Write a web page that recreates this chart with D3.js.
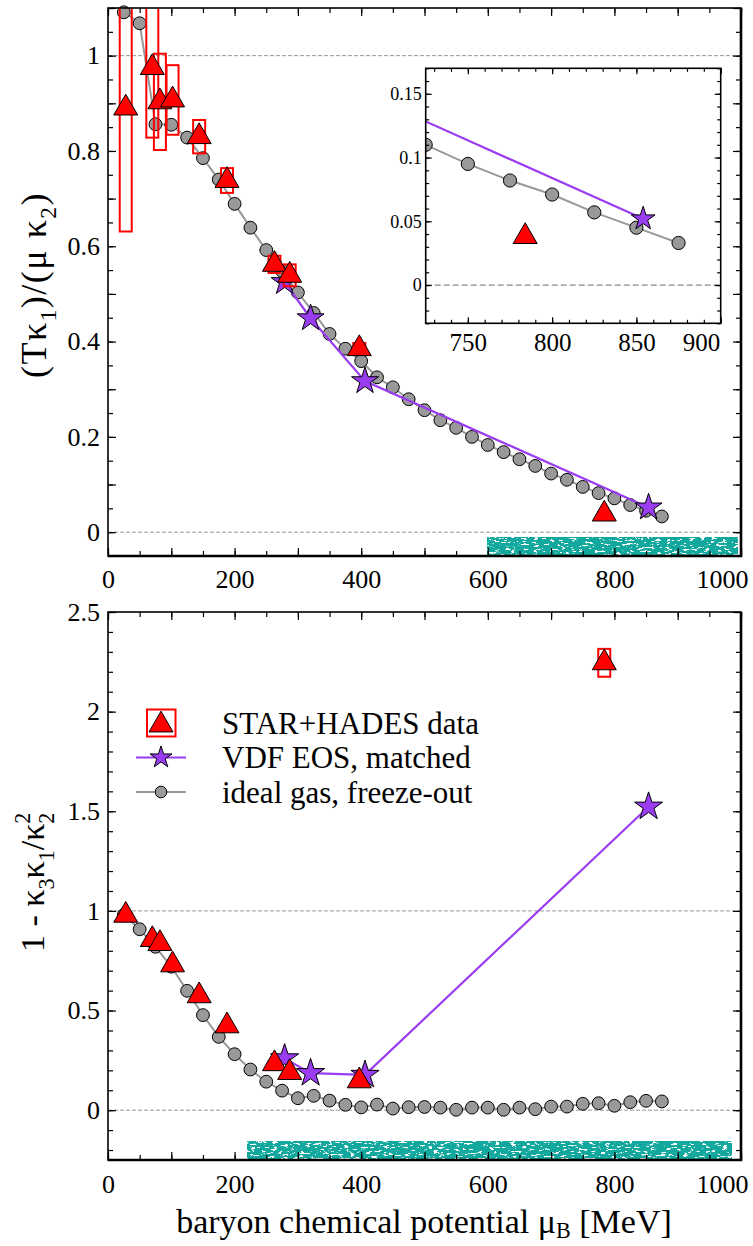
<!DOCTYPE html>
<html>
<head>
<meta charset="utf-8">
<script src="https://cdn.jsdelivr.net/npm/d3@7"></script>
<style>
  body { margin: 0; background: #fff; }
  svg text { font-family: "Liberation Serif", "Times New Roman", "DejaVu Serif", serif; fill: #000; }
</style>
</head>
<body>
<svg id="fig" width="753" height="1246"></svg>
<script>
// ---------- data ----------
// ideal gas along the freeze-out line
const idealMu = [25, 50, 75, 100, 125, 150, 175, 200, 225, 250, 275, 300, 325, 350, 375, 400, 425, 450,
                 475, 500, 525, 550, 575, 600, 625, 650, 675, 700, 725, 750, 775, 800, 825, 850, 875];
const idealRatio = [1.091, 1.068, 0.856, 0.855, 0.828, 0.785, 0.740, 0.689, 0.639, 0.592, 0.548, 0.503,
                    0.460, 0.416, 0.385, 0.359, 0.325, 0.304, 0.279, 0.256, 0.235, 0.219, 0.200, 0.183,
                    0.168, 0.153, 0.139, 0.123, 0.110, 0.095, 0.082, 0.071, 0.057, 0.045, 0.033];
const idealSkew = [0.980, 0.908, 0.820, 0.720, 0.599, 0.477, 0.368, 0.281, 0.204, 0.143, 0.098, 0.060,
                   0.072, 0.048, 0.027, 0.014, 0.028, 0.008, 0.015, 0.016, 0.013, 0.002, 0.013, 0.013,
                   0.002, 0.013, 0.005, 0.018, 0.018, 0.032, 0.035, 0.022, 0.040, 0.047, 0.044];

// STAR + HADES measurements
const dataMu = [28, 70, 82, 102, 144, 188, 263, 287, 397, 784];
const dataRatio = [0.890, 0.975, 0.903, 0.907, 0.830, 0.738, 0.562, 0.539, 0.385, 0.038];
const dataRatioErr = [0.259, 0.147, 0.101, 0.073, 0.035, 0.026, 0.018, 0.023, 0.012, 0.004];
const dataSkew = [0.978, 0.856, 0.836, 0.729, 0.574, 0.423, 0.233, 0.189, 0.147, 2.245];
const dataSkewErr = [0.01, 0.01, 0.01, 0.01, 0.01, 0.01, 0.01, 0.01, 0.01, 0.07];

// VDF equation of state, matched points
const vdfMu = [279, 320, 406, 854];
const vdfRatio = [0.525, 0.449, 0.317, 0.052];
const vdfSkew = [0.260, 0.186, 0.177, 1.523];

// axis ticks
const xTickLabels = [0, 200, 400, 600, 800, 1000];
const yTickLabelsTop = [0, 0.2, 0.4, 0.6, 0.8, 1];
const yTickLabelsBottom = [0, 0.5, 1, 1.5, 2, 2.5];
const insetXTickLabels = [750, 800, 850, 900];
const insetYTickLabels = [0, 0.05, 0.1, 0.15];

// speckled bands along the bottom of each panel (mu range, value range)
const bandTopMu = [600, 995], bandTopVal = [-0.05, -0.011];
const bandBottomMu = [220, 985], bandBottomVal = [-0.25, -0.157];

// ---------- style ----------
const RED = "#ff0000", PURPLE = "#9a3cf0", GRAY = "#999999", TEAL = "#13a89e";
const svg = d3.select("#fig");
const defs = svg.append("defs");

// speckle texture for the bands
const f = defs.append("filter").attr("id", "speckle")
  .attr("x", 0).attr("y", 0).attr("width", 1).attr("height", 1)
  .attr("color-interpolation-filters", "sRGB");
f.append("feTurbulence").attr("type", "fractalNoise")
  .attr("baseFrequency", "0.18 0.55").attr("numOctaves", 3).attr("seed", 5).attr("result", "n");
f.append("feColorMatrix").attr("in", "n").attr("type", "matrix")
  .attr("values", "0 0 0 0 0.075  0 0 0 0 0.659  0 0 0 0 0.620  16 0 0 0 -5.4");

const triangle = d3.symbol(d3.symbolTriangle, 249);
const star = d3.symbol(d3.symbolStar, 225);

// rich text with sub/superscripts
function rich(sel, parts, fs, subShift = 0.28) {
  let cur = 0;
  parts.forEach(p => {
    const ts = sel.append("tspan").text(p.t);
    const target = p.sub ? fs * subShift : p.sup ? -fs * 0.42 : 0;
    if (p.sub || p.sup) ts.attr("font-size", fs * 0.65);
    if (target !== cur) ts.attr("dy", target - cur);
    if (p.dx) ts.attr("dx", p.dx);
    cur = target;
  });
}

// frame with inward ticks on all four sides
function frame(g, x, y, o) {
  const [xl, xr] = x.range(), [yb, yt] = y.range();
  const style = s => s.call(a => a.select(".domain").remove())
    .attr("font-family", null).attr("font-size", o.fs)
    .selectAll("line").attr("stroke-width", 1.2);
  // minor ticks
  g.append("g").attr("transform", `translate(0,${yb})`)
    .call(d3.axisBottom(x).tickValues(o.xMinor).tickSize(-o.minor).tickFormat("")).call(style);
  g.append("g").attr("transform", `translate(0,${yt})`)
    .call(d3.axisTop(x).tickValues(o.xMinor).tickSize(-o.minor).tickFormat("")).call(style);
  g.append("g").attr("transform", `translate(${xl},0)`)
    .call(d3.axisLeft(y).tickValues(o.yMinor).tickSize(-o.minor).tickFormat("")).call(style);
  g.append("g").attr("transform", `translate(${xr},0)`)
    .call(d3.axisRight(y).tickValues(o.yMinor).tickSize(-o.minor).tickFormat("")).call(style);
  // major ticks
  g.append("g").attr("transform", `translate(0,${yt})`)
    .call(d3.axisTop(x).tickValues(o.xMajor).tickSize(-o.major).tickFormat("")).call(style);
  g.append("g").attr("transform", `translate(${xr},0)`)
    .call(d3.axisRight(y).tickValues(o.yMajor).tickSize(-o.major).tickFormat("")).call(style);
  const xa = g.append("g").attr("class", "xaxis").attr("transform", `translate(0,${yb})`)
    .call(d3.axisBottom(x).tickValues(o.xMajor).tickSize(-o.major).tickPadding(o.xPad)
      .tickFormat(d => o.xLabels.includes(d) ? d : "")).call(style);
  xa.attr("font-size", o.xfs || o.fs);
  g.append("g").attr("transform", `translate(${xl},0)`)
    .call(d3.axisLeft(y).tickValues(o.yMajor).tickSize(-o.major).tickPadding(o.yPad)
      .tickFormat(d => o.yLabels.some(v => Math.abs(v - d) < 1e-9) ? d3.format("")(+d.toFixed(3)) : "")).call(style);
  g.append("rect").attr("x", xl).attr("y", yt).attr("width", xr - xl).attr("height", yb - yt)
    .attr("fill", "none").attr("stroke", "#000").attr("stroke-width", o.frame || 1.6);
  if (o.heavy) {
    g.append("path").attr("d", `M${xl},${yb}H${xr}V${yt}`)
      .attr("fill", "none").attr("stroke", "#000").attr("stroke-width", 2.6);
  }
  // keep the last label inside the figure
  g.selectAll(".xaxis .tick text").filter(d => d === o.lastLabel)
    .attr("text-anchor", "end").attr("dx", o.lastDx);
}

function hline(g, x, y, v, w, dash) {
  g.append("line").attr("x1", x.range()[0]).attr("x2", x.range()[1])
    .attr("y1", y(v)).attr("y2", y(v))
    .attr("stroke", "#8a8a8a").attr("stroke-width", w).attr("stroke-dasharray", dash);
}

function band(g, x, y, mu, val) {
  g.append("rect").attr("x", x(mu[0])).attr("width", x(mu[1]) - x(mu[0]))
    .attr("y", y(val[1])).attr("height", y(val[0]) - y(val[1]))
    .attr("fill", TEAL).attr("filter", "url(#speckle)");
}

function series(g, x, y, o) {
  const line = d3.line().x(d => x(d[0])).y(d => y(d[1]));
  const ideal = d3.zip(o.idealMu, o.ideal);
  g.append("path").attr("d", line(ideal)).attr("fill", "none")
    .attr("stroke", GRAY).attr("stroke-width", 2);
  g.append("g").selectAll("circle").data(ideal).join("circle")
    .attr("cx", d => x(d[0])).attr("cy", d => y(d[1])).attr("r", o.r || 6.4)
    .attr("fill", GRAY).attr("stroke", "#000").attr("stroke-width", 1);
  const vdf = d3.zip(o.vdfMu, o.vdf);
  g.append("path").attr("d", line(vdf)).attr("fill", "none")
    .attr("stroke", PURPLE).attr("stroke-width", 2.2);
  g.append("g").selectAll("path").data(vdf).join("path")
    .attr("transform", d => `translate(${x(d[0])},${y(d[1])})`)
    .attr("d", o.star || star).attr("fill", PURPLE).attr("stroke", "#000").attr("stroke-width", 1);
  const data = d3.zip(o.dataMu, o.data, o.err || o.data.map(() => 0));
  if (o.err) {
    g.append("g").attr("clip-path", o.clip).selectAll("rect").data(data).join("rect")
      .attr("x", d => x(d[0]) - 6).attr("width", 12)
      .attr("y", d => y(d[1] + d[2])).attr("height", d => y(d[1] - d[2]) - y(d[1] + d[2]))
      .attr("fill", "none").attr("stroke", RED).attr("stroke-width", 2);
  }
  g.append("g").selectAll("path").data(data).join("path")
    .attr("transform", d => `translate(${x(d[0])},${y(d[1])})`)
    .attr("d", triangle).attr("fill", RED).attr("stroke", "#000").attr("stroke-width", 1);
}

// ---------- top panel ----------
const x = d3.scaleLinear([0, 1000], [108, 741]);
const yTop = d3.scaleLinear([-0.05, 1.1], [556, 8]);
const gTop = svg.append("g");

defs.append("clipPath").attr("id", "clipTop").append("rect")
  .attr("x", 108).attr("y", 8).attr("width", 633).attr("height", 548);

hline(gTop, x, yTop, 1, 0.9, "4,2");
hline(gTop, x, yTop, 0, 0.9, "4,2");
band(gTop, x, yTop, bandTopMu, bandTopVal);
series(gTop, x, yTop, {
  idealMu, ideal: idealRatio, vdfMu, vdf: vdfRatio,
  dataMu, data: dataRatio, err: dataRatioErr, clip: "url(#clipTop)"
});
frame(gTop, x, yTop, {
  xMinor: d3.range(0, 1001, 50), xMajor: d3.range(0, 1001, 100), xLabels: xTickLabels,
  yMinor: d3.range(-0.05, 1.1001, 0.05), yMajor: d3.range(0, 1.1001, 0.1).map(v => +v.toFixed(2)),
  yLabels: yTickLabelsTop, minor: 5, major: 8, fs: 26, xPad: 13.5, yPad: 8, heavy: true,
  lastLabel: 1000, lastDx: 7
});

// inset
const xIn = d3.scaleLinear([725, 900], [425.7, 720.7]);
const yIn = d3.scaleLinear([-0.03, 0.17], [323.3, 68.3]);
const gIn = svg.append("g");
gIn.append("rect").attr("x", 425.7).attr("y", 68.3).attr("width", 295).attr("height", 255).attr("fill", "#fff");
defs.append("clipPath").attr("id", "clipIn").append("rect")
  .attr("x", 425.7).attr("y", 68.3).attr("width", 295).attr("height", 255);
hline(gIn, xIn, yIn, 0, 1.3, "6,3");
const gInData = gIn.append("g").attr("clip-path", "url(#clipIn)");
series(gInData, xIn, yIn, {
  idealMu, ideal: idealRatio, vdfMu, vdf: vdfRatio,
  dataMu, data: dataRatio, star: d3.symbol(d3.symbolStar, 175), r: 6.6
});
frame(gIn, xIn, yIn, {
  xMinor: d3.range(730, 901, 10), xMajor: d3.range(750, 901, 50), xLabels: insetXTickLabels,
  yMinor: d3.range(-0.03, 0.1701, 0.01).map(v => +v.toFixed(2)),
  yMajor: d3.range(0, 0.1701, 0.05).map(v => +v.toFixed(2)),
  yLabels: insetYTickLabels, minor: 3.5, major: 6, fs: 18, xfs: 25, xPad: 9.5, yPad: 4, frame: 1.6,
  lastLabel: 900, lastDx: -1
});

// ---------- bottom panel ----------
const yBot = d3.scaleLinear([-0.25, 2.5], [1160, 612]);
const gBot = svg.append("g");
hline(gBot, x, yBot, 1, 0.9, "4,2");
hline(gBot, x, yBot, 0, 0.9, "4,2");
band(gBot, x, yBot, bandBottomMu, bandBottomVal);
series(gBot, x, yBot, {
  idealMu, ideal: idealSkew, vdfMu, vdf: vdfSkew,
  dataMu, data: dataSkew, err: dataSkewErr, star: d3.symbol(d3.symbolStar, 245)
});
frame(gBot, x, yBot, {
  xMinor: d3.range(0, 1001, 50), xMajor: d3.range(0, 1001, 100), xLabels: xTickLabels,
  yMinor: d3.range(-0.2, 2.5001, 0.1).map(v => +v.toFixed(2)),
  yMajor: d3.range(0, 2.5001, 0.5).map(v => +v.toFixed(2)),
  yLabels: yTickLabelsBottom, minor: 5, major: 8, fs: 26, xPad: 14.5, yPad: 8, heavy: true,
  lastLabel: 1000, lastDx: 7
});

// legend
const lg = svg.append("g");
const legendRows = [
  { y: 723, label: "STAR+HADES data" },
  { y: 757.5, label: "VDF EOS, matched" },
  { y: 792, label: "ideal gas, freeze-out" }
];
lg.append("rect").attr("x", 147).attr("y", 709.5).attr("width", 28.5).attr("height", 27)
  .attr("fill", "none").attr("stroke", RED).attr("stroke-width", 2);
lg.append("path").attr("transform", "translate(161,725)").attr("d", triangle)
  .attr("fill", RED).attr("stroke", "#000");
lg.append("line").attr("x1", 136).attr("x2", 186).attr("y1", 757.5).attr("y2", 757.5)
  .attr("stroke", PURPLE).attr("stroke-width", 2.2);
lg.append("path").attr("transform", "translate(161,757.5)").attr("d", d3.symbol(d3.symbolStar, 150))
  .attr("fill", PURPLE).attr("stroke", "#000");
lg.append("line").attr("x1", 136).attr("x2", 186).attr("y1", 792).attr("y2", 792)
  .attr("stroke", GRAY).attr("stroke-width", 2.2);
lg.append("circle").attr("cx", 161).attr("cy", 792).attr("r", 5.8)
  .attr("fill", GRAY).attr("stroke", "#000");
lg.selectAll("text").data(legendRows).join("text")
  .attr("x", 222).attr("y", d => d.y + 10.5).attr("font-size", 31).text(d => d.label);

// ---------- axis titles ----------
const ty = svg.append("text").attr("transform", "translate(46,285) rotate(-90)")
  .attr("text-anchor", "middle").attr("font-size", 36).attr("letter-spacing", 1.5);
rich(ty, [{ t: "(Tκ" }, { t: "1", sub: true }, { t: ")/(μ κ" }, { t: "2", sub: true }, { t: ")" }], 36);

const by = svg.append("text").attr("transform", "translate(44,952) rotate(-90)")
  .attr("text-anchor", "start").attr("font-size", 34);
rich(by, [{ t: "1 - κ" }, { t: "3", sub: true }, { t: "κ" }, { t: "1", sub: true }, { t: "/κ" },
          { t: "2", sup: true }, { t: "2", sub: true, dx: -11 }], 34);

const bx = svg.append("text").attr("x", 424).attr("y", 1233)
  .attr("text-anchor", "middle").attr("font-size", 34);
rich(bx, [{ t: "baryon chemical potential μ" }, { t: "B", sub: true }, { t: " [MeV]" }], 34, 0.16);
</script>
</body>
</html>
